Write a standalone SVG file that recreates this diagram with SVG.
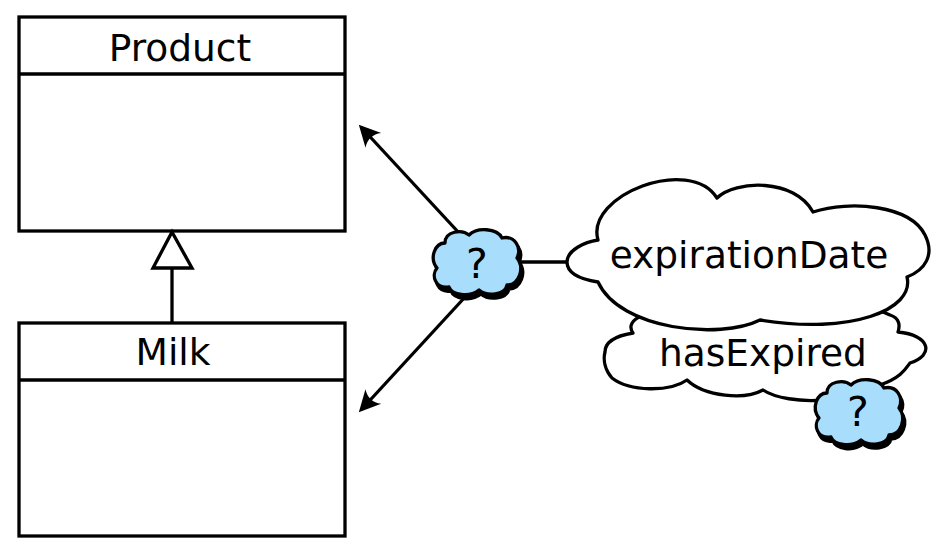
<svg xmlns="http://www.w3.org/2000/svg" width="936" height="541" viewBox="0 0 936 541">
  <style>
    .box { fill: #ffffff; stroke: #000000; stroke-width: 3.3; }
    .line { fill: none; stroke: #000000; stroke-width: 3.3; }
    .label { font-family: "DejaVu Sans", "Liberation Sans", sans-serif; font-size: 37.5px; fill: #000000; text-anchor: middle; }
    .q { font-size: 41px; }
    .cloud { fill: #ffffff; stroke: #000000; stroke-width: 3.3; stroke-linejoin: round; }
    .qshadow { fill: #000000; stroke: #000000; stroke-width: 3.3; stroke-linejoin: round; }
    .qfill { fill: #a8ddfc; stroke: #000000; stroke-width: 3.3; stroke-linejoin: round; }
  </style>
  <defs>
    <marker id="arrow" markerUnits="userSpaceOnUse" markerWidth="30" markerHeight="30" viewBox="-24 -12 28 24" refX="-3" refY="0" orient="auto">
      <path d="M 0,0 L -20,-10 Q -13,0 -20,10 Z" fill="#000000"/>
    </marker>
    <path id="smallCloud" d="M -40,5 C -48,-5 -42,-20 -32,-20 C -32,-32 -15,-34 -8,-28 C 0,-36 20,-35 25,-25 C 38,-28 45,-15 40,-5 C 48,5 42,22 30,22 C 28,32 10,34 2,27 C -8,35 -25,32 -28,24 C -42,26 -46,12 -40,5 Z"/>
  </defs>

  <!-- class boxes -->
  <g id="product">
    <rect class="box" x="19" y="17" width="326" height="214"/>
    <line class="line" x1="19" y1="74" x2="345" y2="74"/>
    <text class="label" x="180" y="61">Product</text>
  </g>
  <g id="milk">
    <rect class="box" x="19" y="323" width="326" height="213"/>
    <line class="line" x1="19" y1="380" x2="345" y2="380"/>
    <text class="label" x="173" y="365">Milk</text>
  </g>

  <!-- connectors -->
  <g id="connectors">
    <line class="line" x1="172" y1="268" x2="172" y2="323"/>
    <path d="M 172,232 L 192,268 L 153,268 Z" fill="#ffffff" stroke="#000000" stroke-width="3.3" stroke-linejoin="miter"/>
    <line class="line" x1="460" y1="234" x2="361" y2="127" marker-end="url(#arrow)"/>
    <line class="line" x1="466" y1="296" x2="361" y2="410" marker-end="url(#arrow)"/>
    <line class="line" x1="518" y1="262" x2="570" y2="262"/>
  </g>

  <!-- thought clouds -->
  <g id="hasExpired">
    <path class="cloud" d="M 605,352 C 605,342 615,336 633,333 C 625,322 640,310 680,310 C 760,300 860,300 890,315 C 900,318 900,326 898,332 C 930,335 935,355 910,363 C 905,370 900,378 880,385 C 860,395 840,400 823,400 C 800,402 775,398 763,390 C 745,400 705,397 687,380 C 670,392 630,392 612,378 C 605,370 603,360 605,352 Z"/>
    <text class="label" x="763" y="366">hasExpired</text>
  </g>
  <g id="expirationDate">
    <path class="cloud" d="M 567,262 C 567,250 585,242 598,240 C 585,195 690,155 717,198 C 735,180 795,178 813,212 C 850,200 910,205 925,235 C 935,255 925,270 907,277 C 915,310 850,335 760,320 C 720,340 620,330 598,282 C 585,280 567,275 567,262 Z"/>
    <text class="label" x="749" y="268">expirationDate</text>
  </g>
  <g id="unknownLink">
    <use href="#smallCloud" class="qshadow" transform="translate(479,267)"/>
    <use href="#smallCloud" class="qfill" transform="translate(477,263)"/>
    <text class="label q" x="477" y="278">?</text>
  </g>
  <g id="unknownResult">
    <use href="#smallCloud" class="qshadow" transform="translate(861,417)"/>
    <use href="#smallCloud" class="qfill" transform="translate(859,413)"/>
    <text class="label q" x="858" y="426">?</text>
  </g>
</svg>
